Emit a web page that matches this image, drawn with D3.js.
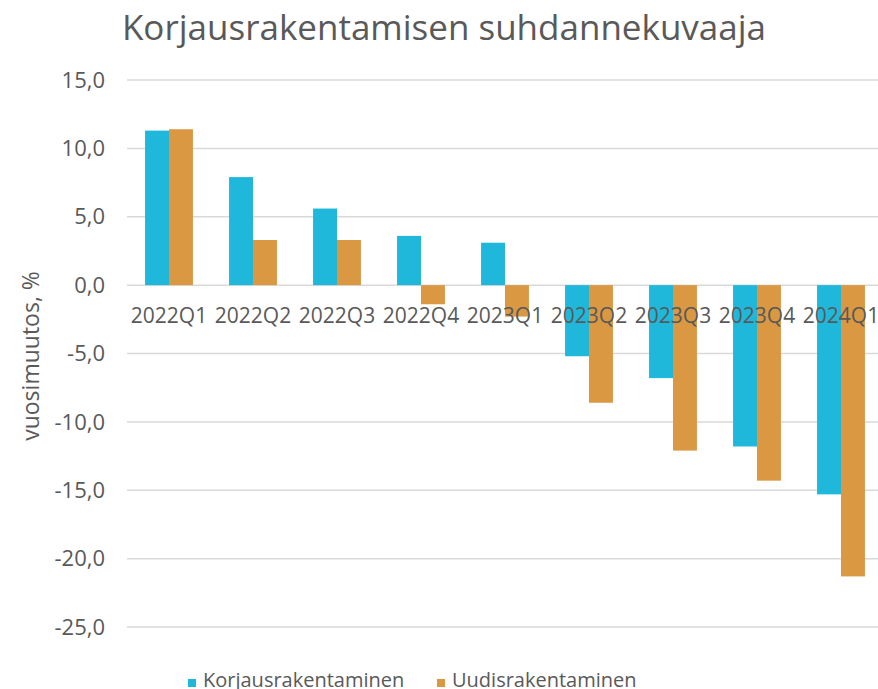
<!DOCTYPE html>
<html lang="fi">
<head>
<meta charset="UTF-8">
<title>Korjausrakentamisen suhdannekuvaaja</title>
<script src="https://d3js.org/d3.v7.min.js"></script>
<style>
  body { margin: 0; background: #fff; }
  text { font-family: "Open Sans", sans-serif; fill: #595959; }
</style>
</head>
<body>
<div id="chart"></div>
<script>
var quarters = ["2022Q1", "2022Q2", "2022Q3", "2022Q4", "2023Q1", "2023Q2", "2023Q3", "2023Q4", "2024Q1"];
var korjaus = [11.3, 7.9, 5.6, 3.6, 3.1, -5.2, -6.8, -11.8, -15.3];
var uudis = [11.4, 3.3, 3.3, -1.4, -2.3, -8.6, -12.1, -14.3, -21.3];
var seriesNames = ["Korjausrakentaminen", "Uudisrakentaminen"];
var colors = ["#1fb8da", "#da9842"];
var yTicks = [15, 10, 5, 0, -5, -10, -15, -20, -25];

var W = 878, H = 689;
var mLeft = 127, mRight = 883, mTop = 80, mBottom = 627;

var svg = d3.select("#chart").append("svg")
    .attr("width", W).attr("height", H);

var x = d3.scaleBand().domain(quarters).range([mLeft, mRight]).paddingInner(0.43).paddingOuter(0.215);
var sub = d3.scaleBand().domain(seriesNames).range([0, x.bandwidth()]);
var y = d3.scaleLinear().domain([-25, 15]).range([mBottom, mTop]);

// gridlines
svg.append("g").selectAll("line")
    .data(yTicks)
    .enter().append("line")
    .attr("x1", mLeft).attr("x2", W)
    .attr("y1", function(d) { return y(d); })
    .attr("y2", function(d) { return y(d); })
    .attr("stroke", "#d9d9d9")
    .attr("stroke-width", 1.5);

// y labels
var fmt = function(d) { return d3.format(".1f")(d).replace(".", ",").replace("−", "-"); };
svg.append("g").selectAll("text")
    .data(yTicks)
    .enter().append("text")
    .attr("x", 105)
    .attr("y", function(d) { return y(d); })
    .attr("dy", "0.35em")
    .attr("text-anchor", "end")
    .attr("font-size", "22px")
    .text(fmt);

// bars
var rows = quarters.map(function(q, i) {
    return { q: q, vals: [korjaus[i], uudis[i]] };
});
var groups = svg.append("g").selectAll("g")
    .data(rows)
    .enter().append("g")
    .attr("transform", function(d) { return "translate(" + x(d.q) + ",0)"; });

groups.selectAll("rect")
    .data(function(d) { return d.vals.map(function(v, k) { return { k: k, v: v }; }); })
    .enter().append("rect")
    .attr("x", function(d) { return sub(seriesNames[d.k]); })
    .attr("width", sub.bandwidth())
    .attr("y", function(d) { return y(Math.max(0, d.v)); })
    .attr("height", function(d) { return Math.abs(y(d.v) - y(0)); })
    .attr("fill", function(d) { return colors[d.k]; });

// category labels (sit on top of the bars)
svg.append("g").selectAll("text")
    .data(quarters)
    .enter().append("text")
    .attr("x", function(d) { return x(d) + x.bandwidth() / 2; })
    .attr("y", 323)
    .attr("text-anchor", "middle")
    .attr("font-size", "21px")
    .text(function(d) { return d; });

// title
svg.append("text")
    .attr("x", 444).attr("y", 40)
    .attr("text-anchor", "middle")
    .attr("font-size", "35px")
    .text("Korjausrakentamisen suhdannekuvaaja");

// y axis title
svg.append("text")
    .attr("transform", "translate(39,356) rotate(-90)")
    .attr("text-anchor", "middle")
    .attr("font-size", "23px")
    .text("vuosimuutos, %");

// legend
var legX = [188, 437];
var leg = svg.append("g").selectAll("g")
    .data(seriesNames)
    .enter().append("g")
    .attr("transform", function(d, i) { return "translate(" + legX[i] + ",0)"; });
leg.append("rect")
    .attr("x", 0).attr("y", 679)
    .attr("width", 8).attr("height", 8)
    .attr("fill", function(d, i) { return colors[i]; });
leg.append("text")
    .attr("x", 15).attr("y", 687)
    .attr("font-size", "20px")
    .text(function(d) { return d; });
</script>
</body>
</html>
